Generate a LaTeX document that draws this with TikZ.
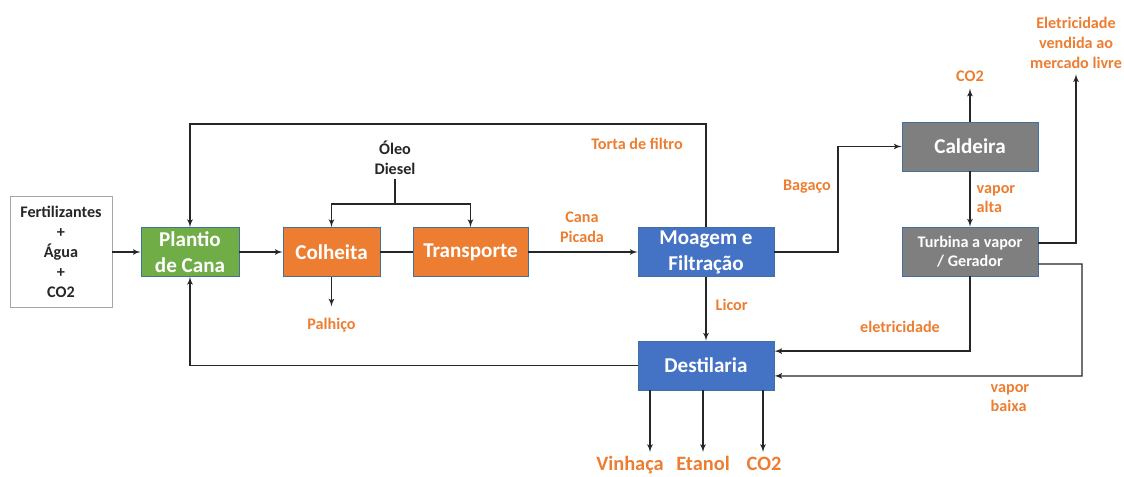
\documentclass[tikz,border=0pt]{standalone}
\usepackage{fontspec}
\setmainfont{Carlito}
\usepackage{xcolor}
\usepackage{tikz}
\usetikzlibrary{positioning,arrows}

\definecolor{laranja}{HTML}{ED7D31}
\definecolor{verde}{HTML}{70AD47}
\definecolor{azul}{HTML}{4472C4}
\definecolor{cinza}{HTML}{7F7F7F}
\definecolor{borda}{HTML}{41719C}

\begin{document}
\begin{tikzpicture}[->,>=latex',x=0.025cm,y=-0.025cm]
    \tikzstyle{box}=[draw=borda,line width=0.6pt,minimum height=1.225cm,text=white,align=center,inner sep=2pt,font=\fontsize{15}{18.5}\selectfont\bfseries]
    \tikzstyle{rotulo}=[text=laranja,align=center,inner sep=1pt,font=\fontsize{11.5}{14}\selectfont\bfseries]
    \tikzstyle{grande}=[anchor=base,font=\fontsize{14.5}{18}\selectfont\bfseries]
    \tikzstyle{flow}=[draw=black!85,line width=0.9pt]
    \useasboundingbox (0,0) rectangle (1124,476);

    % caixas
    \node[draw=black!35,line width=0.6pt,minimum width=2.55cm,minimum height=2.775cm,align=center,text=black!85,font=\fontsize{11.5}{14.2}\selectfont\bfseries] (fert) at (61,252) {Fertilizantes\\+\\Água\\+\\CO2};
    \node[box,fill=verde,minimum width=2.45cm]   (plantio)  at (190,252)   {Plantio\\de Cana};
    \node[box,fill=laranja,minimum width=2.425cm] (colheita) at (331.5,252) {Colheita};
    \node[box,fill=laranja,minimum width=2.875cm] (transp)   at (470.5,252) {Transporte};
    \node[box,fill=azul,minimum width=3.4cm]     (moagem)   at (706,252)   {Moagem e\\Filtração};
    \node[box,fill=azul,minimum width=3.4cm]     (destil)   at (706,365.5) {Destilaria};
    \node[box,fill=cinza,minimum width=3.4cm]    (caldeira) at (970,146.5) {Caldeira};
    \node[box,fill=cinza,minimum width=3.4cm,font=\fontsize{11.5}{13.8}\selectfont\bfseries] (turbina) at (970,251.5) {Turbina a vapor\\/ Gerador};

    % textos
    \node[align=center,inner sep=3pt,text=black!85,font=\fontsize{11.5}{14}\selectfont\bfseries] (oleo) at (395,158) {Óleo\\Diesel};
    \node[rotulo] (palhico)  at (331.5,325) {Palhiço};
    \node[rotulo] (lblcana)  at (582,227)   {Cana\\Picada};
    \node[rotulo] (lbltorta) at (637,144)   {Torta de filtro};
    \node[rotulo,anchor=west] (lblicor) at (714,305) {Licor};
    \node[rotulo] (lblbag)   at (807,187)   {Bagaço};
    \node[rotulo] (co2c)     at (970,76)    {CO2};
    \node[rotulo,anchor=west,align=left] (lblva) at (975,199) {vapor\\alta};
    \node[rotulo] (elvend)   at (1076,43)   {Eletricidade\\vendida ao\\mercado livre};
    \node[rotulo] (lblelet)  at (900,327)   {eletricidade};
    \node[rotulo,anchor=west,align=left] (lblvb) at (989,398) {vapor\\baixa};
    \node[rotulo,grande] (vinhaca) at (630,470) {Vinhaça};
    \node[rotulo,grande] (etanol)  at (703,470) {Etanol};
    \node[rotulo,grande] (co2d)    at (764,470) {CO2};

    \coordinate (split) at (395,204);
    \coordinate (torta) at (706,124);
    \coordinate (bag)   at (838,146.5);
    \coordinate (vb)    at (1082,376);
    \coordinate (sv)    at (650,452);
    \coordinate (se)    at (703,452);
    \coordinate (sc)    at (763,452);

    % fluxos
    \draw[flow] (fert) -- (plantio);
    \draw[flow] (plantio) -- (colheita);
    \draw[flow,-] (colheita) -- (transp);
    \draw[flow] (transp) -- (moagem);
    \draw[flow,-] (oleo) -- (split);
    \draw[flow] (split) -| (colheita);
    \draw[flow] (split) -| (transp);
    \draw[flow,shorten >=7pt] (colheita) -- (palhico);
    \draw[flow] (moagem) -- (torta) -| (plantio);
    \draw[flow] (moagem) -- (destil);
    \draw[flow] (destil) -| (plantio);
    \draw[flow] (destil.south -| sv) -- (sv);
    \draw[flow] (destil.south -| se) -- (se);
    \draw[flow] (destil.south -| sc) -- (sc);
    \draw[flow] (moagem) -| (bag) -- (caldeira);
    \draw[flow,shorten >=4pt] (caldeira) -- (co2c);
    \draw[flow] (caldeira) -- (turbina);
    \draw[flow,shorten >=3pt] ([yshift=0.21cm]turbina.east) -| (elvend);
    \draw[flow] (turbina) |- ([yshift=0.36cm]destil.east);
    \draw[flow] ([yshift=-0.31cm]turbina.east) -| (vb) -- ([yshift=-0.26cm]destil.east);
\end{tikzpicture}
\end{document}
